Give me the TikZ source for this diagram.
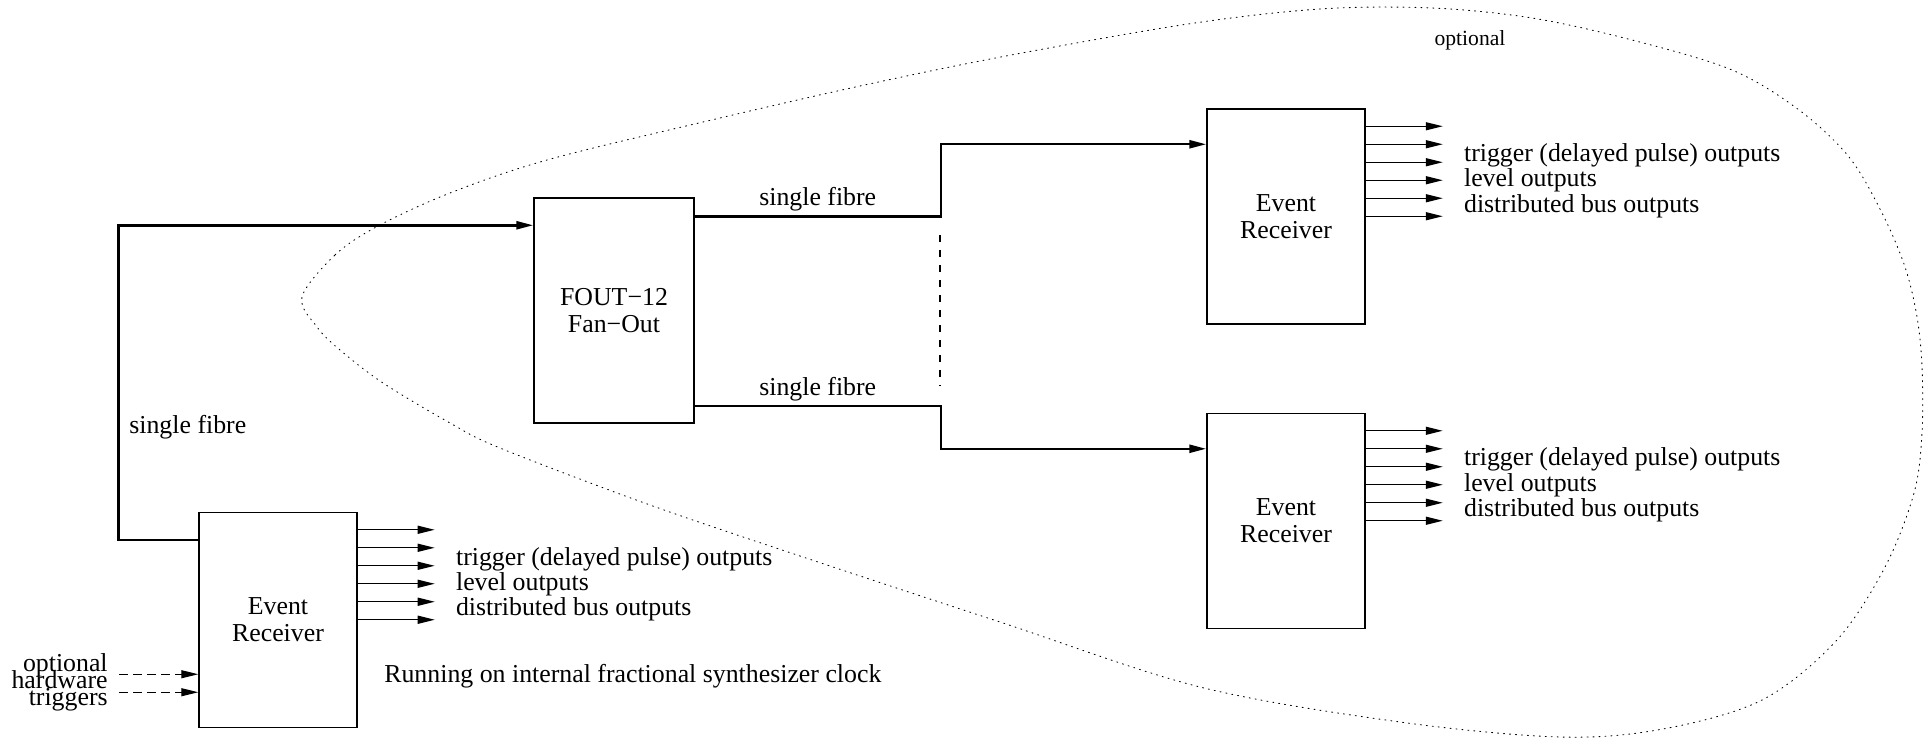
\documentclass[tikz,border=0pt]{standalone}
\usepackage{fontspec}
\setmainfont{Liberation Serif}
\usepackage{tikz}
\usetikzlibrary{positioning}
\usetikzlibrary{arrows.meta}
\tikzset{%
  every box/.style={
    draw,
    line width=0.85pt,
    minimum width=3.16cm,
    minimum height=4.3cm,
    inner sep=0pt,
    align=center,
    font=\fontsize{14.7}{15.5}\selectfont
  },
  fibre/.style={line width=1.4pt, ->},
  output/.style={line width=0.8pt, ->},
  caption/.style={inner sep=0pt, font=\fontsize{14.7}{14.5}\selectfont},
  outlabel/.style={caption, anchor=west, align=left},
}

\begin{document}
\begin{tikzpicture}[>={Triangle[length=0.34cm,width=0.16cm]}, x=0.02cm, y=-0.02cm]
\useasboundingbox (0,0) rectangle (1932,743);

% optional part
\draw[line width=0.5pt, dash pattern=on 0.6pt off 2.8pt, line cap=round]
  plot[smooth cycle, tension=0.55] coordinates {
    (302,297) (335,255) (378,226) (450,193) (547,160) (703,122) (860,86)
    (1006,56) (1188,24) (1320,9) (1432,8) (1532,18) (1632,40) (1732,70)
    (1799,110) (1849,157) (1882,213) (1905,267) (1917,317) (1922,367)
    (1922,433) (1914,493) (1885,567)
    (1836,641) (1762,700) (1663,729) (1560,737) (1400,722) (1200,687)
    (1000,622) (812,560) (650,505) (500,448) (450,423) (383,383) (340,350)
    (317,327)};
\node[inner sep=0pt, font=\fontsize{12.3}{14}\selectfont] (opt) at (1470,40) {optional};

\node[every box] (er1) at (278,620) {Event\\Receiver};
\node[every box, minimum width=3.2cm, minimum height=4.5cm] (fout) at (614,310.5) {FOUT−12\\Fan−Out};
\node[every box] (er2) at (1286,216.5) {Event\\Receiver};
\node[every box] (er3) at (1286,521) {Event\\Receiver};

\draw[fibre] ([yshift=-0.56cm]er1.north west) -- ++(-80,0) |- ([yshift=-0.56cm]fout.north west);
\node[caption, anchor=west] (fibre left) at (129,427) {single fibre};
\draw[fibre] ([yshift=-0.38cm]fout.north east) -- node[caption, above=0.07cm] (fibre top) {single fibre} ++(246,0) |- ([yshift=-0.72cm]er2.north west);
\draw[fibre] ([yshift=0.36cm]fout.south east) -- node[caption, above=0.07cm] (fibre bottom) {single fibre} ++(246,0) |- ([yshift=-0.72cm]er3.north west);
\draw[line width=0.6pt, dash pattern=on 0.14cm off 0.16cm] (940,235) -- (940,386);

\foreach \er in {er1,er2,er3}{
  \foreach \k in {1,...,6}
    \draw[output] ([yshift=-\k*0.36cm]\er.north east) -- ++(77,0);
  \node[outlabel] (\er lbl) at ([xshift=1.96cm, yshift=-1.45cm]\er.north east) {trigger (delayed pulse) outputs\\level outputs\\distributed bus outputs};
}

% hardware triggers
\draw[->, line width=0.6pt, dash pattern=on 0.18cm off 0.1cm] ([xshift=-1.58cm, yshift=1.08cm]er1.south west) -- ([yshift=1.08cm]er1.south west);
\draw[->, line width=0.6pt, dash pattern=on 0.18cm off 0.1cm] ([xshift=-1.58cm, yshift=0.72cm]er1.south west) -- ([yshift=0.72cm]er1.south west);
\node[caption, anchor=base east] (hw opt) at (108,671) {optional};
\node[caption, anchor=base east] (hw hw) at (108,688) {hardware};
\node[caption, anchor=base east] (hw trig) at (108,705) {triggers};

\node[caption, anchor=west] (clock) at (384,676) {Running on internal fractional synthesizer clock};
\end{tikzpicture}
\end{document}
